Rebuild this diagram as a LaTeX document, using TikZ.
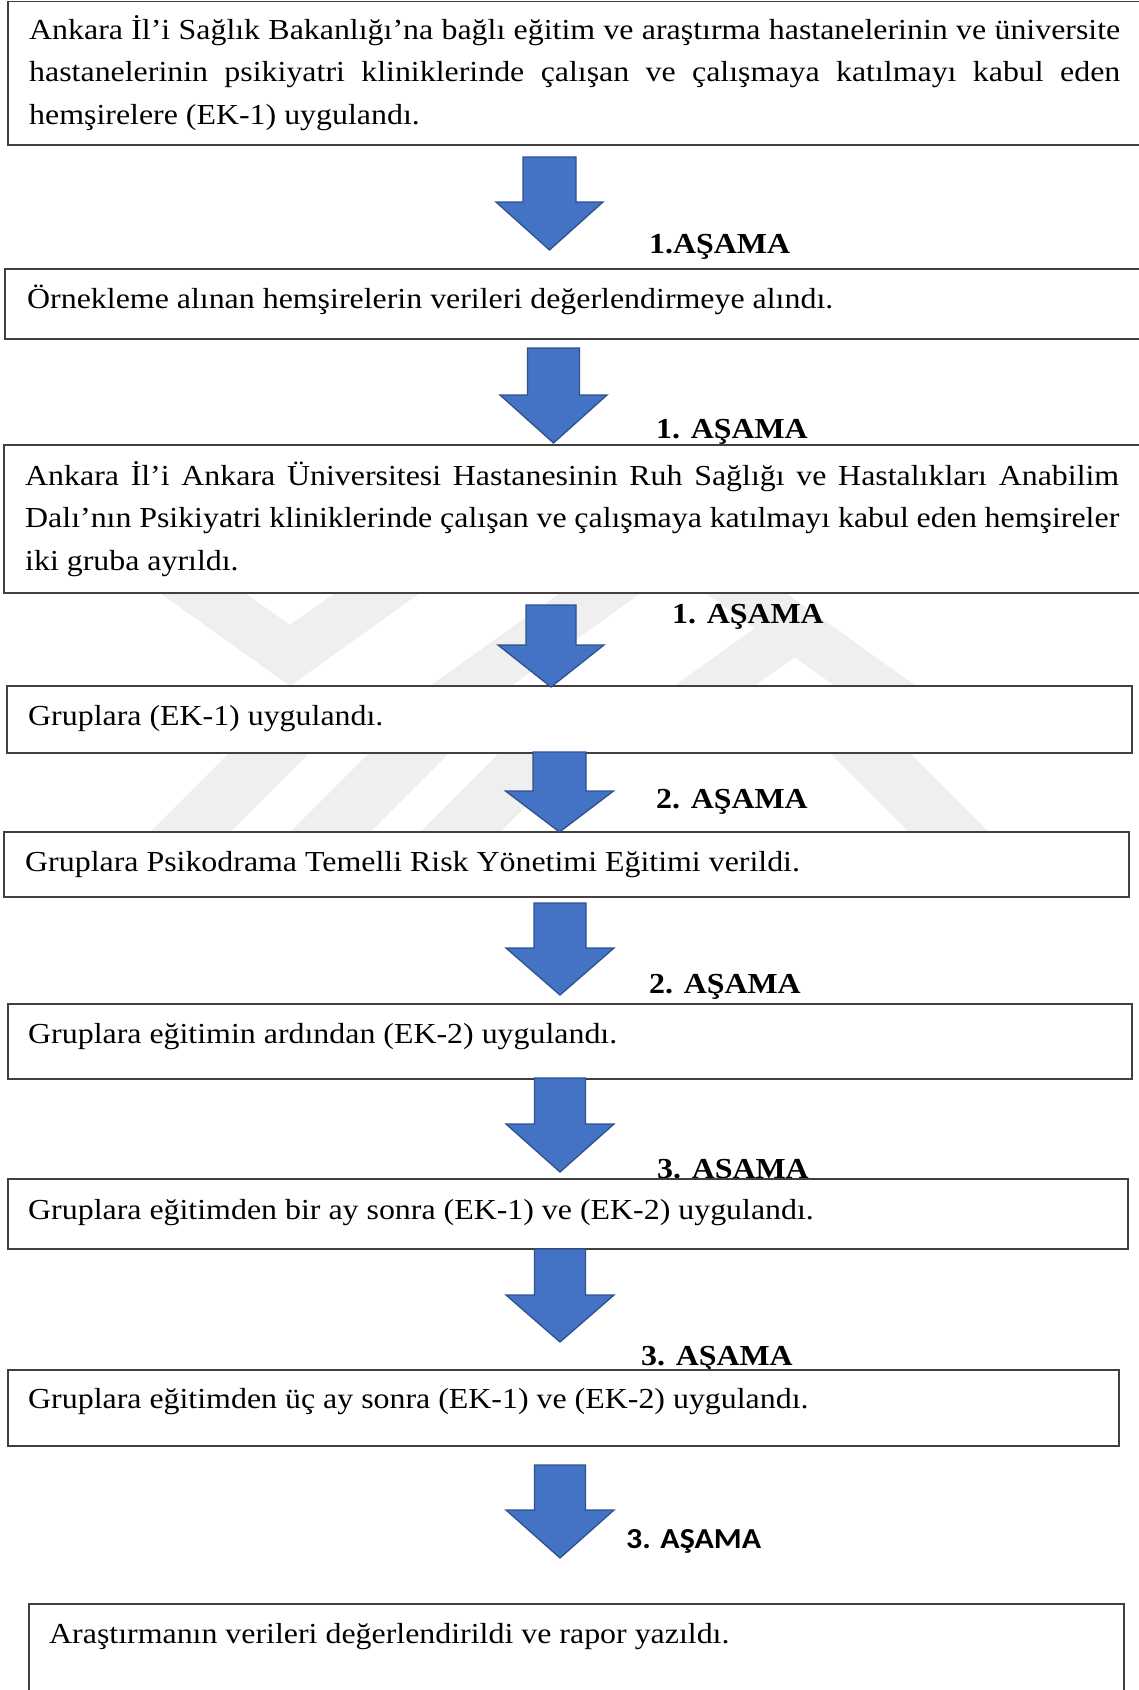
\documentclass[tikz,border=0pt]{standalone}
\usepackage{fontspec}
\setmainfont{Liberation Serif}[FakeStretch=1.1]
\newfontfamily\calibfont{Carlito}[FakeStretch=1.1]
\definecolor{arrowfill}{HTML}{4472C4}
\definecolor{arrowline}{HTML}{2F528F}
\definecolor{boxline}{HTML}{404040}
\definecolor{wmark}{HTML}{EFEFEF}
\tikzset{
  flowbox/.style={draw=boxline, line width=1.6pt, fill=white},
  bodytext/.style={anchor=base west, inner sep=0pt, font=\fontsize{29}{42.5}\selectfont},
  stagelabel/.style={anchor=base west, inner sep=0pt, font=\fontsize{29}{35}\selectfont\bfseries},
  blockarrow/.style={fill=arrowfill, draw=arrowline, line width=1.3pt, line join=miter},
  watermark/.style={fill=wmark, draw=none},
}
% name, cx, top, shoulder, tip, shaft half width, head half width
\newcommand\blockarr[7]{%
  \coordinate (#1-top) at (#2,#3);
  \coordinate (#1-tip) at (#2,#5);
  \draw[blockarrow] (#2-#6,#3) -- (#2+#6,#3) -- (#2+#6,#4) -- (#2+#7,#4)
     -- (#1-tip) -- (#2-#7,#4) -- (#2-#6,#4) -- cycle;}
\newcommand\flowrect[5]{% name, x1, y1, x2, y2
  \draw[flowbox] (#2,#3) rectangle (#4,#5);
  \coordinate (#1-nw) at (#2,#3);
  \coordinate (#1-se) at (#4,#5);}
\begin{document}
\begin{tikzpicture}[x=1pt,y=-1pt]
\clip (0,0) rectangle (1139,1690);
\fill[white] (0,0) rectangle (1139,1690);

% faint background watermark (only visible between boxes)
\begin{scope}
\clip (0,593) rectangle (1139,832);
\fill[watermark] (160,593) -- (290,686) -- (420,593) -- (335,593) -- (290,625) -- (245,593) -- cycle;
\fill[watermark] (430,686) -- (511,686) -- (641,593) -- (560,593) -- cycle;
\fill[watermark] (705,593) -- (786,593) -- (916,686) -- (835,686) -- cycle;
\fill[watermark] (674,686) -- (754,686) -- (795,657) -- (754.6,628.4) -- cycle;
\fill[watermark] (150,832) -- (230,832) -- (309,753) -- (229,753) -- cycle;
\fill[watermark] (290,832) -- (370,832) -- (449,753) -- (369,753) -- cycle;
\fill[watermark] (420,832) -- (500,832) -- (579,753) -- (499,753) -- cycle;
\fill[watermark] (830,753) -- (910,753) -- (989,832) -- (909,832) -- cycle;
\end{scope}

% stage labels (drawn beneath the boxes)
\node[stagelabel] (l1) at (649,253) {1.AŞAMA};
\node[stagelabel] (l2) at (656,438) {1. AŞAMA};
\node[stagelabel] (l3) at (672,623) {1. AŞAMA};
\node[stagelabel] (l4) at (656,808) {2. AŞAMA};
\node[stagelabel] (l5) at (649,993) {2. AŞAMA};
\node[stagelabel] (l6) at (657,1178) {3. AŞAMA};
\node[stagelabel] (l7) at (641,1365) {3. AŞAMA};
\node[stagelabel, font=\fontsize{29}{35}\selectfont\calibfont\bfseries] (l8) at (626,1548) {3. AŞAMA};

% boxes
\flowrect{b1}{8}{1.5}{1160}{145}
\flowrect{b2}{5}{269}{1160}{339}
\flowrect{b3}{4}{445}{1160}{593}
\flowrect{b4}{7}{686}{1132}{753}
\flowrect{b5}{4}{832}{1129}{897}
\flowrect{b6}{8}{1004}{1132}{1079}
\flowrect{b7}{8}{1179}{1128}{1249}
\flowrect{b8}{8}{1370}{1119}{1446}
\flowrect{b9}{29}{1604}{1124}{1720}

% texts
\node[bodytext] (t1a) at (29,39) {\makebox[1091pt][s]{Ankara İl’i Sağlık Bakanlığı’na bağlı eğitim ve araştırma hastanelerinin ve üniversite}};
\node[bodytext] (t1b) at (29,81.5) {\makebox[1091pt][s]{hastanelerinin psikiyatri kliniklerinde çalışan ve çalışmaya katılmayı kabul eden}};
\node[bodytext] (t1c) at (29,124) {hemşirelere (EK-1) uygulandı.};
\node[bodytext] (t2) at (27,308) {Örnekleme alınan hemşirelerin verileri değerlendirmeye alındı.};
\node[bodytext] (t3a) at (25,485) {\makebox[1094pt][s]{Ankara İl’i Ankara Üniversitesi Hastanesinin Ruh Sağlığı ve Hastalıkları Anabilim}};
\node[bodytext] (t3b) at (25,527.5) {\makebox[1094pt][s]{Dalı’nın Psikiyatri kliniklerinde çalışan ve çalışmaya katılmayı kabul eden hemşireler}};
\node[bodytext] (t3c) at (25,570) {iki gruba ayrıldı.};
\node[bodytext] (t4) at (28,725) {Gruplara (EK-1) uygulandı.};
\node[bodytext] (t5) at (25,871) {Gruplara Psikodrama Temelli Risk Yönetimi Eğitimi verildi.};
\node[bodytext] (t6) at (28,1043) {Gruplara eğitimin ardından (EK-2) uygulandı.};
\node[bodytext] (t7) at (28,1219) {Gruplara eğitimden bir ay sonra (EK-1) ve (EK-2) uygulandı.};
\node[bodytext] (t8) at (28,1408) {Gruplara eğitimden üç ay sonra (EK-1) ve (EK-2) uygulandı.};
\node[bodytext] (t9) at (49,1643) {Araştırmanın verileri değerlendirildi ve rapor yazıldı.};

% block arrows
\blockarr{a1}{549.5}{157}{202}{250}{26.5}{53.5}
\blockarr{a2}{553.5}{348}{395}{443}{26}{53.5}
\blockarr{a3}{551}{605}{645}{687}{25}{53}
\blockarr{a4}{559.5}{752}{791}{832}{26.5}{54}
\blockarr{a5}{560}{903}{948}{995}{26}{54}
\blockarr{a6}{560}{1078}{1124}{1172}{25.5}{54}
\blockarr{a7}{560}{1249}{1295}{1342}{25.5}{54}
\blockarr{a8}{560}{1465}{1510}{1558}{25.5}{54}
\end{tikzpicture}
\end{document}
